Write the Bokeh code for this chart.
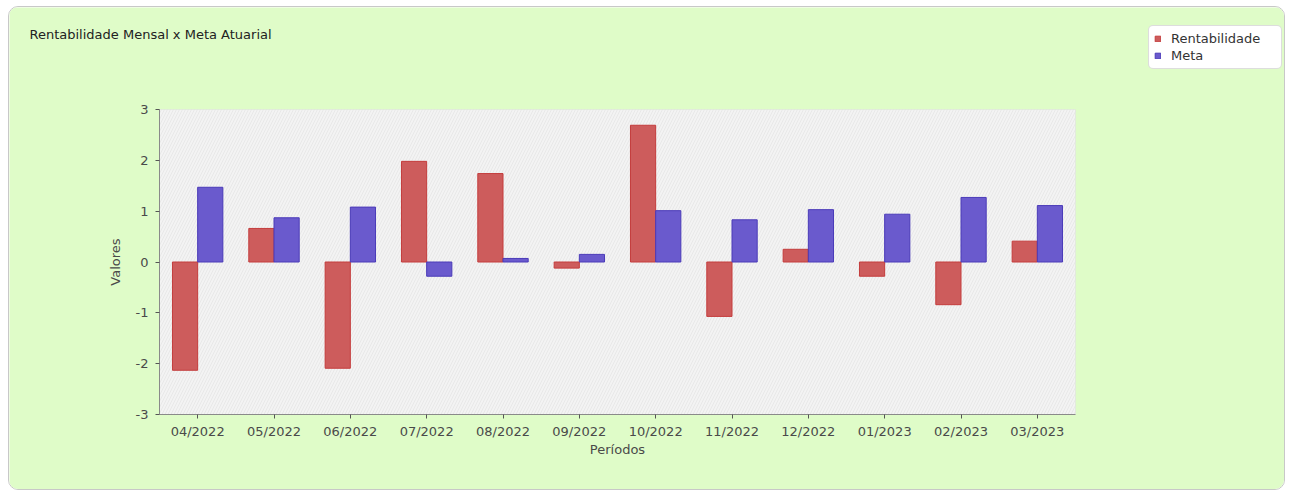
from bokeh.plotting import figure
from bokeh.models import (ColumnDataSource, FixedTicker, Legend, LegendItem,
                          BoxAnnotation, Range1d, Label)
from bokeh.transform import dodge
from bokeh.embed import file_html
from bokeh.resources import INLINE

periods = ["04/2022", "05/2022", "06/2022", "07/2022", "08/2022", "09/2022",
           "10/2022", "11/2022", "12/2022", "01/2023", "02/2023", "03/2023"]
rentabilidade = [-2.13, 0.66, -2.09, 1.98, 1.74, -0.12, 2.69, -1.07, 0.25, -0.28, -0.84, 0.41]
meta = [1.47, 0.87, 1.08, -0.28, 0.07, 0.15, 1.01, 0.83, 1.03, 0.94, 1.27, 1.11]
y_ticks = [-3, -2, -1, 0, 1, 2, 3]
y_tick_labels = ["-3", "-2", "-1", "0", "1", "2", "3"]
title_text = "Rentabilidade Mensal x Meta Atuarial"
series_names = ["Rentabilidade", "Meta"]

# ---- layout (pixels within the canvas) ----
W, H = 1277, 484
PX_LEFT, PX_RIGHT, PX_TOP, PX_BOT = 150, 1066, 102, 407
YMIN, YMAX = -3, 3
BAR_W = 0.33

idx = list(range(len(periods)))
src = ColumnDataSource(dict(i=idx, period=periods, rent=rentabilidade, meta=meta))

ppu_x = (PX_RIGHT - PX_LEFT) / len(periods)
x0 = -0.5 - PX_LEFT / ppu_x
x1 = x0 + W / ppu_x
ppu_y = (PX_BOT - PX_TOP) / (YMAX - YMIN)
y1 = YMAX + PX_TOP / ppu_y
y0 = y1 - H / ppu_y

FONT = "DejaVu Sans"
BG = "#dffcc8"

p = figure(x_range=Range1d(x0, x1), y_range=Range1d(y0, y1),
           width=W, height=H, output_backend="svg", toolbar_location=None,
           min_border_left=0, min_border_right=0, min_border_top=0, min_border_bottom=0)
p.styles = {"border": "1px solid #c8c8c8", "border-radius": "10px", "overflow": "hidden",
            "margin-left": "8px", "margin-top": "6px"}
p.border_fill_color = BG
p.background_fill_color = BG
p.outline_line_color = None
p.grid.visible = False

# plot area background
p.add_layout(BoxAnnotation(left=-0.5, right=len(periods) - 0.5, bottom=YMIN, top=YMAX,
                           fill_color="#f3f3f3", fill_alpha=1.0,
                           line_color="#d4d4d4", line_width=1,
                           hatch_pattern="right_diagonal_line", hatch_color="#e8e8e8",
                           hatch_scale=6, hatch_weight=1, level="underlay"))

r1 = p.vbar(x=dodge("i", -BAR_W / 2), top="rent", width=BAR_W, source=src,
            fill_color="#cd5c5c", line_color="#c43c3c", line_width=1)
r2 = p.vbar(x=dodge("i", BAR_W / 2), top="meta", width=BAR_W, source=src,
            fill_color="#6a5acd", line_color="#4a3ab8", line_width=1)

for ax in (p.xaxis[0], p.yaxis[0]):
    ax.axis_line_color = "#8a8a8a"
    ax.major_tick_line_color = "#555555"
    ax.major_tick_out = 4
    ax.major_tick_in = 0
    ax.minor_tick_line_color = None
    ax.major_label_text_font = FONT
    ax.major_label_text_font_size = "13px"
    ax.major_label_text_color = "#4a4a4a"
    ax.axis_label_text_font = FONT
    ax.axis_label_text_font_size = "13px"
    ax.axis_label_text_font_style = "normal"
    ax.axis_label_text_color = "#4a4a4a"

xa = p.xaxis[0]
xa.fixed_location = YMIN
xa.bounds = (-0.5, len(periods) - 0.5)
xa.ticker = FixedTicker(ticks=idx)
xa.major_label_overrides = {i: s for i, s in zip(idx, periods)}
xa.axis_label = "Períodos"
xa.axis_label_standoff = 0
xa.major_label_standoff = 5

ya = p.yaxis[0]
ya.fixed_location = -0.5
ya.bounds = (YMIN, YMAX)
ya.ticker = FixedTicker(ticks=y_ticks)
ya.major_label_overrides = {t: s for t, s in zip(y_ticks, y_tick_labels)}
ya.axis_label = "Valores"
ya.axis_label_standoff = 10
ya.major_label_standoff = 7

p.add_layout(Label(x=x0 + 20 / ppu_x, y=y1 - 27 / ppu_y, text=title_text,
                   text_font=FONT, text_font_size="13px", text_color="#222222",
                   text_baseline="middle", text_align="left"))

legend = Legend(items=[LegendItem(label=series_names[0], renderers=[r1]),
                       LegendItem(label=series_names[1], renderers=[r2])],
                location=(1139, H - 62), orientation="vertical",
                label_text_font=FONT, label_text_font_size="13px", label_text_color="#333333",
                glyph_width=7, glyph_height=7, label_height=14, spacing=2,
                padding=5, margin=0, border_line_color="#bbbbbb",
                background_fill_color="white", background_fill_alpha=1.0,
                label_standoff=10, label_width=105, border_radius=5)
p.add_layout(legend, "center")

open("out.html", "w").write(file_html(p, INLINE))
